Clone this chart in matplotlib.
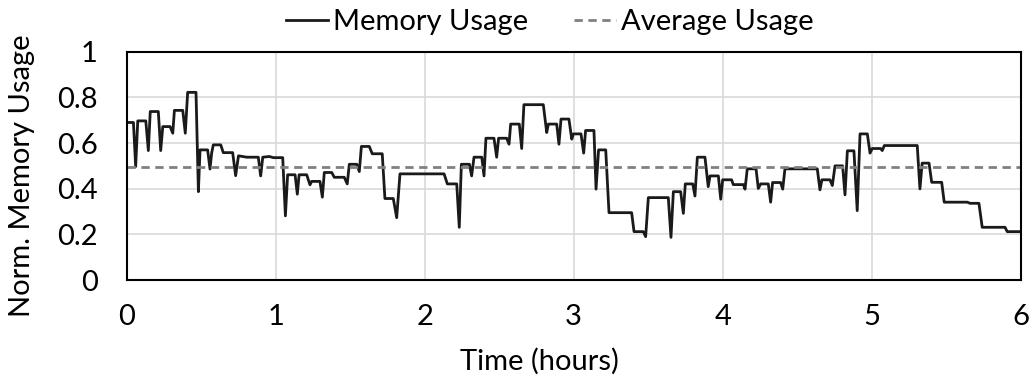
import matplotlib
matplotlib.use('Agg')
import matplotlib.pyplot as plt

plt.rcParams['font.family'] = ['Lato', 'DejaVu Sans']

# vertices of the memory usage trace (hours, normalized usage)
time_h = [0.0, 0.045, 0.06, 0.074, 0.128, 0.145, 0.158, 0.212, 0.228, 0.242,
          0.291, 0.309, 0.32, 0.376, 0.393, 0.409, 0.465, 0.481, 0.492, 0.543,
          0.559, 0.57, 0.581, 0.631, 0.648, 0.711, 0.731, 0.75, 0.805, 0.883,
          0.899, 0.913, 0.957, 0.984, 1.047, 1.065, 1.08, 1.13, 1.145, 1.157,
          1.208, 1.23, 1.241, 1.297, 1.313, 1.326, 1.376, 1.393, 1.46, 1.48,
          1.494, 1.544, 1.561, 1.575, 1.628, 1.648, 1.715, 1.733, 1.789, 1.812,
          1.834, 2.13, 2.152, 2.215, 2.232, 2.246, 2.3, 2.315, 2.331, 2.383,
          2.398, 2.411, 2.465, 2.483, 2.496, 2.55, 2.566, 2.577, 2.635, 2.651,
          2.666, 2.796, 2.819, 2.83, 2.886, 2.901, 2.915, 2.968, 2.987, 2.998,
          3.049, 3.067, 3.08, 3.136, 3.15, 3.167, 3.215, 3.237, 3.389, 3.405,
          3.467, 3.483, 3.501, 3.635, 3.653, 3.669, 3.718, 3.736, 3.749, 3.799,
          3.814, 3.83, 3.881, 3.903, 3.915, 3.971, 3.987, 4.0, 4.06, 4.071,
          4.139, 4.15, 4.165, 4.224, 4.239, 4.255, 4.306, 4.322, 4.335, 4.389,
          4.403, 4.418, 4.635, 4.653, 4.666, 4.72, 4.736, 4.754, 4.805, 4.821,
          4.837, 4.881, 4.903, 4.922, 4.971, 4.989, 5.004, 5.06, 5.071, 5.085,
          5.306, 5.324, 5.339, 5.385, 5.403, 5.47, 5.487, 5.642, 5.66, 5.72,
          5.742, 5.895, 5.91, 6.0]
usage = [0.69, 0.69, 0.497, 0.697, 0.697, 0.567, 0.738, 0.738, 0.567, 0.672,
         0.672, 0.643, 0.743, 0.743, 0.643, 0.822, 0.822, 0.387, 0.57, 0.57,
         0.486, 0.556, 0.592, 0.592, 0.558, 0.558, 0.457, 0.544, 0.538, 0.538,
         0.456, 0.538, 0.541, 0.536, 0.536, 0.281, 0.461, 0.461, 0.376, 0.461,
         0.461, 0.417, 0.432, 0.432, 0.363, 0.471, 0.471, 0.45, 0.45, 0.421,
         0.507, 0.507, 0.475, 0.585, 0.585, 0.553, 0.553, 0.357, 0.357, 0.273,
         0.465, 0.465, 0.421, 0.421, 0.231, 0.507, 0.507, 0.456, 0.538, 0.538,
         0.456, 0.621, 0.621, 0.538, 0.621, 0.621, 0.595, 0.683, 0.683, 0.576,
         0.768, 0.768, 0.646, 0.683, 0.683, 0.595, 0.705, 0.705, 0.617, 0.64,
         0.64, 0.556, 0.655, 0.655, 0.398, 0.57, 0.57, 0.295, 0.295, 0.212,
         0.212, 0.19, 0.361, 0.361, 0.187, 0.387, 0.387, 0.292, 0.421, 0.421,
         0.368, 0.538, 0.538, 0.409, 0.456, 0.456, 0.354, 0.439, 0.439, 0.418,
         0.418, 0.398, 0.487, 0.487, 0.401, 0.421, 0.421, 0.341, 0.427, 0.427,
         0.398, 0.487, 0.487, 0.395, 0.439, 0.439, 0.414, 0.5, 0.5, 0.373,
         0.566, 0.566, 0.304, 0.64, 0.64, 0.556, 0.576, 0.576, 0.567, 0.589,
         0.589, 0.399, 0.512, 0.512, 0.428, 0.428, 0.341, 0.341, 0.336, 0.336,
         0.231, 0.231, 0.212, 0.212]
average_usage = 0.495

fig = plt.figure(figsize=(10.32, 3.81), dpi=100)
ax = fig.add_axes([0.1228, 0.265, 0.8662, 0.5993])

ax.plot(time_h, usage, color='#1a1a1a', linewidth=2, label='Memory Usage')
ax.axhline(average_usage, color='#808080', linestyle='--', linewidth=2,
           dashes=(3, 2), label='Average Usage')

ax.set_xlim(0, 6)
ax.set_ylim(0, 1)
ax.set_xticks(range(7))
ax.set_yticks([0, 0.2, 0.4, 0.6, 0.8, 1])
ax.set_yticklabels(['0', '0.2', '0.4', '0.6', '0.8', '1'])
ax.tick_params(length=0, labelsize=21)
ax.tick_params(axis='y', pad=21)
ax.tick_params(axis='x', pad=17)
ax.grid(True, color='#d9d9d9', linewidth=1.2)
ax.set_axisbelow(True)
for s in ax.spines.values():
    s.set_linewidth(1.5)
    s.set_color('black')

ax.set_xlabel('Time (hours)', fontsize=21)
ax.xaxis.set_label_coords(0.462, -0.298)
ax.set_ylabel('Norm. Memory Usage', fontsize=21)
ax.yaxis.set_label_coords(-0.103, 0.455)
ax.legend(loc='center', bbox_to_anchor=(550 / 1032, 1 - 22 / 381),
          bbox_transform=fig.transFigure, ncol=2, frameon=False,
          fontsize=21, handlelength=1.44, handletextpad=0.17, columnspacing=1.58,
          borderaxespad=0, borderpad=0)

plt.savefig('out.png', dpi=100)
